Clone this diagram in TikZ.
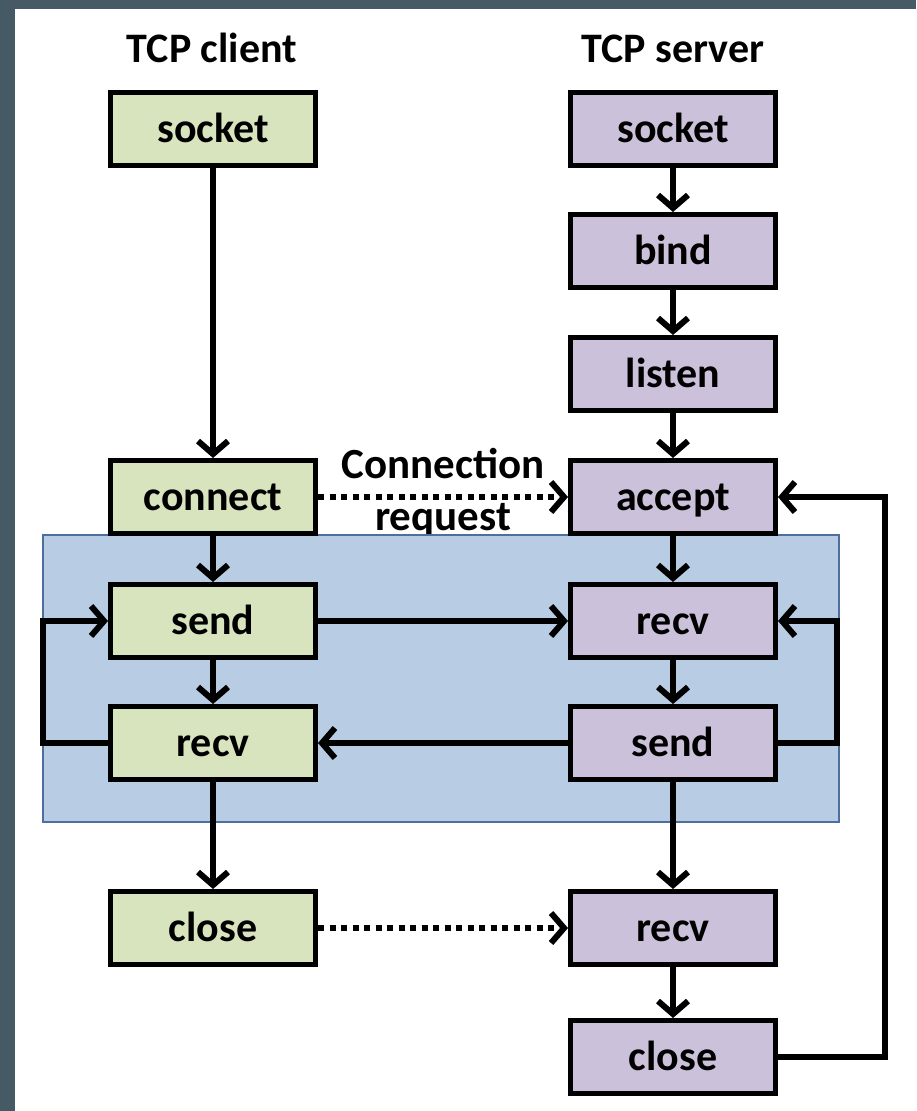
\documentclass[tikz,border=0pt]{standalone}
\usepackage{fontspec}
\setmainfont{Carlito}
\usetikzlibrary{arrows.meta}
\definecolor{frame}{RGB}{70,90,102}
\definecolor{cgreen}{RGB}{215,228,189}
\definecolor{spurple}{RGB}{204,193,218}
\definecolor{bluefill}{RGB}{184,204,228}
\definecolor{blueedge}{RGB}{79,110,160}
\tikzset{
  box/.style={draw=black,line width=5pt,minimum width=205pt,minimum height=73pt,inner sep=0pt,
    font=\fontsize{42}{48}\selectfont\bfseries,text height=27pt,text depth=0pt},
  cbox/.style={box,fill=cgreen},
  sbox/.style={box,fill=spurple},
  title/.style={font=\fontsize{42}{48}\selectfont\bfseries,anchor=base,inner sep=0pt},
  lbl/.style={font=\fontsize{43}{48}\selectfont\bfseries,anchor=base,inner sep=0pt},
  arr/.style={line width=6pt,-{Straight Barb[length=13pt,width=30pt,line width=6pt]}},
  dotarr/.style={arr,dash pattern=on 6pt off 5.5pt},
  conn/.style={line width=6pt}
}
\begin{document}
\begin{tikzpicture}[x=1pt,y=-1pt]
\fill[frame] (0,0) rectangle (916,1111);
\fill[white] (15,9) rectangle (916,1111);
\useasboundingbox (0,0) rectangle (916,1111);
% titles
\node[title] (tc) at (212,62) {TCP client};
\node[title] (ts) at (673,62) {TCP server};
% connection label (behind blue box)
\node[lbl] (l1) at (443,478) {Connection};
\node[lbl] (l2) at (443,530) {request};
% blue region
\filldraw[fill=bluefill,draw=blueedge,line width=2.5pt] (43,535) rectangle (839,822);
% client boxes
\node[cbox] (csock) at (213,129) {socket};
\node[cbox] (cconn) at (213,497) {connect};
\node[cbox] (csend) at (213,621) {send};
\node[cbox] (crecv) at (213,743) {recv};
\node[cbox] (cclose) at (213,928) {close};
% server boxes
\node[sbox] (ssock) at (673,129) {socket};
\node[sbox] (sbind) at (673,251) {bind};
\node[sbox] (slist) at (673,374) {listen};
\node[sbox] (sacc) at (673,497) {accept};
\node[sbox] (srecv) at (673,621) {recv};
\node[sbox] (ssend) at (673,743) {send};
\node[sbox] (srecv2) at (673,928) {recv};
\node[sbox] (sclose) at (673,1057) {close};
% vertical arrows
\draw[arr] (csock) -- (cconn);
\draw[arr] (cconn) -- (csend);
\draw[arr] (csend) -- (crecv);
\draw[arr] (crecv) -- (cclose);
\draw[arr] (ssock) -- (sbind);
\draw[arr] (sbind) -- (slist);
\draw[arr] (slist) -- (sacc);
\draw[arr] (sacc) -- (srecv);
\draw[arr] (srecv) -- (ssend);
\draw[arr] (ssend) -- (srecv2);
\draw[arr] (srecv2) -- (sclose);
% horizontal
\draw[dotarr] (cconn) -- (sacc);
\draw[arr] (csend) -- (srecv);
\draw[arr] (ssend) -- (crecv);
\draw[dotarr] (cclose) -- (srecv2);
% loops
\coordinate (cl1) at (43,743);
\coordinate (cl2) at (43,621);
\draw[arr] (crecv.west) -- (cl1) -- (cl2) -- (csend.west);
\coordinate (sl1) at (837,743);
\coordinate (sl2) at (837,621);
\draw[arr] (ssend.east) -- (sl1) -- (sl2) -- (srecv.east);
\coordinate (ol1) at (885,1057);
\coordinate (ol2) at (885,497);
\draw[arr] (sclose.east) -- (ol1) -- (ol2) -- (sacc.east);
\end{tikzpicture}
\end{document}
